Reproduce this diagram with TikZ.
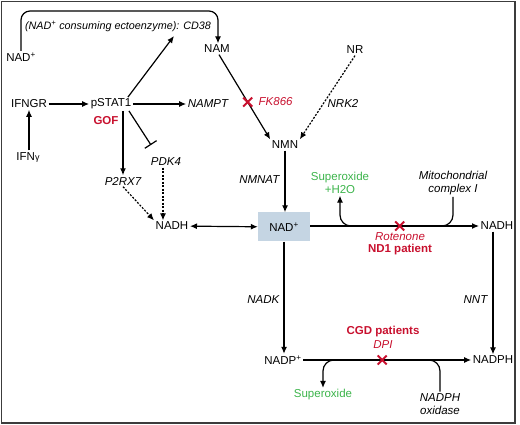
\documentclass[tikz,border=0pt]{standalone}
\usepackage{fontspec}
\setmainfont{Liberation Sans}
\usetikzlibrary{arrows.meta,shapes.misc}
\definecolor{myred}{RGB}{200,16,46}
\definecolor{mygreen}{RGB}{60,180,75}
\definecolor{boxblue}{RGB}{197,213,227}
\definecolor{framegray}{RGB}{60,60,60}
\begin{document}
\begin{tikzpicture}[x=1pt,y=-1pt,
  font=\fontsize{11.5}{13.5}\selectfont,
  every node/.style={inner sep=1.5pt},
  it/.style={font=\fontsize{11.5}{13.5}\selectfont\itshape},
  redit/.style={font=\fontsize{11.5}{13.5}\selectfont\itshape, text=myred},
  redbf/.style={font=\fontsize{11.5}{13.5}\selectfont\bfseries, text=myred},
  grn/.style={text=mygreen, align=center},
  nadbx/.style={fill=boxblue, minimum width=52pt, minimum height=29pt},
  arr/.style={-{Latex[length=7pt,width=6pt]}, line width=1.2pt},
  darr/.style={arr, dash pattern=on 2pt off 1.5pt},
  dbl/.style={{Latex[length=7pt,width=6pt]}-{Latex[length=7pt,width=6pt]}, line width=1.2pt},
  blockarr/.style={-{Bar[width=14pt]}, line width=1.2pt},
  plainline/.style={line width=1.2pt},
  xmark/.style={cross out, draw=myred, line width=2pt, minimum size=7pt, inner sep=0pt}
]
\useasboundingbox (0,0) rectangle (520,425);
\draw[framegray, line width=1.5pt] (1.5,1.5) rectangle (515,423);

% main nodes
\node (nadtop) at (21,57) {NAD\textsuperscript{+}};
\node[font=\fontsize{10.8}{13}\selectfont\itshape] (cd38) at (118,26) {(NAD\textsuperscript{+} consuming ectoenzyme): CD38};
\node (nam) at (217,49) {NAM};
\node (nr) at (355,50) {NR};
\node (ifngr) at (29,104) {IFNGR};
\node (pstat) at (111,104) {pSTAT1};
\node[redbf] (gof) at (106,121) {GOF};
\node[it] (nampt) at (208,104) {NAMPT};
\node (ifng) at (28,157) {IFN{\small γ}};
\node[it] (pdk4) at (166,162) {PDK4};
\node[it] (p2rx7) at (123,181) {P2RX7};
\node (nadhl) at (172,226) {NADH};
\node (nmn) at (285,145) {NMN};
\node[nadbx] (nadbox) at (284,227) {NAD\textsuperscript{+}};
\node (nadhr) at (497,226) {NADH};
\node (nadp) at (283,360) {NADP\textsuperscript{+}};
\node (nadph) at (493,360) {NADPH};

% labels
\node[redit, anchor=west] (fk) at (257,102) {FK866};
\node[it] (nrk2) at (343,103) {NRK2};
\node[it, anchor=east] (nmnat) at (281,180) {NMNAT};
\node[grn] (sup1) at (340,183) {Superoxide\\+H2O};
\node[it, align=center] (mito) at (453,183) {Mitochondrial\\complex I};
\node[redit] (rot) at (400,237) {Rotenone};
\node[redbf] (nd1) at (400,250) {ND1 patient};
\node[it, anchor=east] (nadk) at (281,300) {NADK};
\node[it, anchor=east] (nnt) at (489,300) {NNT};
\node[redbf] (cgd) at (383,332) {CGD patients};
\node[redit] (dpi) at (383,345) {DPI};
\node[grn] (sup2) at (323,395) {Superoxide};
\node[it, align=center] (nox) at (440,404) {NADPH\\oxidase};

% coordinates
\coordinate (toprow) at (0,11);
\coordinate (c1) at (nadtop.north);
\coordinate (cdtip) at (174,36);
\coordinate (pstatne) at ([xshift=-5pt]pstat.north east);
\coordinate (pstatse) at ([xshift=-4pt]pstat.south east);
\coordinate (inh) at (151,145);
\coordinate (pdks) at ([xshift=-3pt]pdk4.south);
\coordinate (s1) at (353,226);
\coordinate (m1) at (441,226);
\coordinate (s2) at (334,360);
\coordinate (m2) at (427,360);

% connectors
\draw[arr, rounded corners=9pt] (c1) -- (c1 |- toprow) -| ([xshift=1pt]nam.north);
\draw[arr] (pstatne) -- (cdtip);
\draw[arr] (ifngr) -- (pstat);
\draw[arr] (pstat) -- (nampt);
\draw[arr] (ifngr.south |- ifng.north) -- (ifngr.south);
\draw[arr] (pstat.south -| p2rx7) -- (p2rx7);
\draw[blockarr] (pstatse) -- (inh);
\draw[darr] (pdks) -- (pdks |- nadhl.north);
\draw[darr] (p2rx7.south) -- (nadhl.north west);
\draw[dbl] (nadhl) -- (nadbox);
\draw[arr] ([xshift=2pt]nam.south) -- node[xmark, pos=0.56] {} (nmn.north west);
\draw[darr] (nr.south) -- (nmn.north east);
\draw[arr] (nmn.south) -- (nmn.south |- nadbox.north);
\draw[arr] (nadbox.east |- nadhr) -- node[xmark, pos=0.53] {} (nadhr);
\draw[arr, rounded corners=11pt] (s1) -| (sup1.south);
\draw[plainline, rounded corners=11pt] (mito.south) |- (m1);
\draw[arr] (nadbox.south) -- (nadbox.south |- nadp.north);
\draw[arr] (nadhr.south -| nadph) -- (nadph);
\draw[arr] (nadp) -- node[xmark, pos=0.47] {} (nadph);
\draw[arr, rounded corners=11pt] (s2) -| (sup2.north);
\draw[plainline, rounded corners=11pt] (nox.north) |- (m2);
\end{tikzpicture}
\end{document}
